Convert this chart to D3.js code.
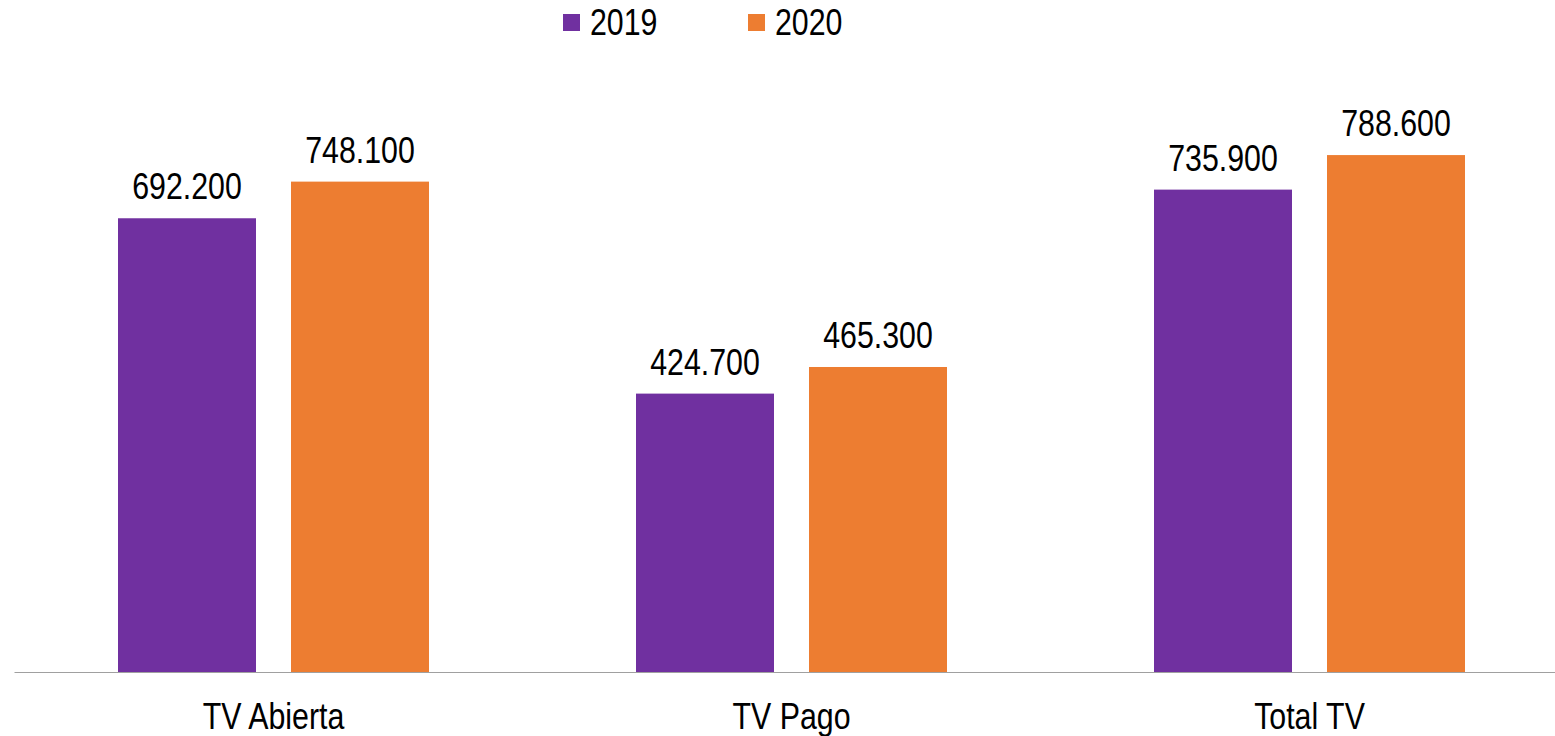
<!DOCTYPE html>
<html><head><meta charset="utf-8">
<script src="https://cdn.jsdelivr.net/npm/d3@7"></script>
<style>body{margin:0;background:#fff}</style>
</head><body>
<svg id="c" width="1555" height="736"></svg>
<script>
const categories = ["TV Abierta", "TV Pago", "Total TV"];
const seriesNames = ["2019", "2020"];
const values2019 = [692.2, 424.7, 735.9];
const values2020 = [748.1, 465.3, 788.6];
const colors = ["#7030A0", "#ED7D31"];

const FONT = "'Liberation Sans',Arial,sans-serif";
const SX = 0.82;
const svg = d3.select("#c");
const W = 1555, H = 736;
const left = 14.5, right = 1568.5, base = 672;

const x = d3.scaleBand().domain(categories).range([left, right]).paddingInner(0).paddingOuter(0);
const groupW = 311;
const inner = d3.scaleBand().domain(seriesNames).range([0, groupW]).paddingInner(35 / 173);
const y = d3.scaleLinear().domain([0, 1000]).range([base, base - 655.5]);

const fmtVal = v => d3.format(".1f")(v) + "00";
const series = [values2019, values2020];

function narrowText(sel, tx, ty, anchor, str) {
  return sel.append("text")
    .attr("transform", `translate(${tx},${ty}) scale(${SX},1)`)
    .attr("text-anchor", anchor)
    .attr("font-family", FONT).attr("font-size", 37).attr("fill", "#000")
    .text(str);
}

const g = svg.append("g");
categories.forEach((c, i) => {
  const gx = x(c) + (x.bandwidth() - groupW) / 2;
  seriesNames.forEach((s, j) => {
    const v = series[j][i];
    g.append("rect")
      .attr("x", gx + inner(s)).attr("width", inner.bandwidth())
      .attr("y", y(v)).attr("height", base - y(v))
      .attr("fill", colors[j]);
    narrowText(g, gx + inner(s) + inner.bandwidth() / 2, y(v) - 19, "middle", fmtVal(v));
  });
  narrowText(g, x(c) + x.bandwidth() / 2, 729, "middle", c);
});

svg.append("line").attr("x1", left).attr("x2", W).attr("y1", base + 0.5).attr("y2", base + 0.5)
  .attr("stroke", "#a0a0a0").attr("stroke-width", 1);

const legX = [563, 748];
seriesNames.forEach((s, j) => {
  svg.append("rect").attr("x", legX[j]).attr("y", 14).attr("width", 17).attr("height", 17).attr("fill", colors[j]);
  narrowText(svg, legX[j] + 27, 35, "start", s);
});
</script>
</body></html>
